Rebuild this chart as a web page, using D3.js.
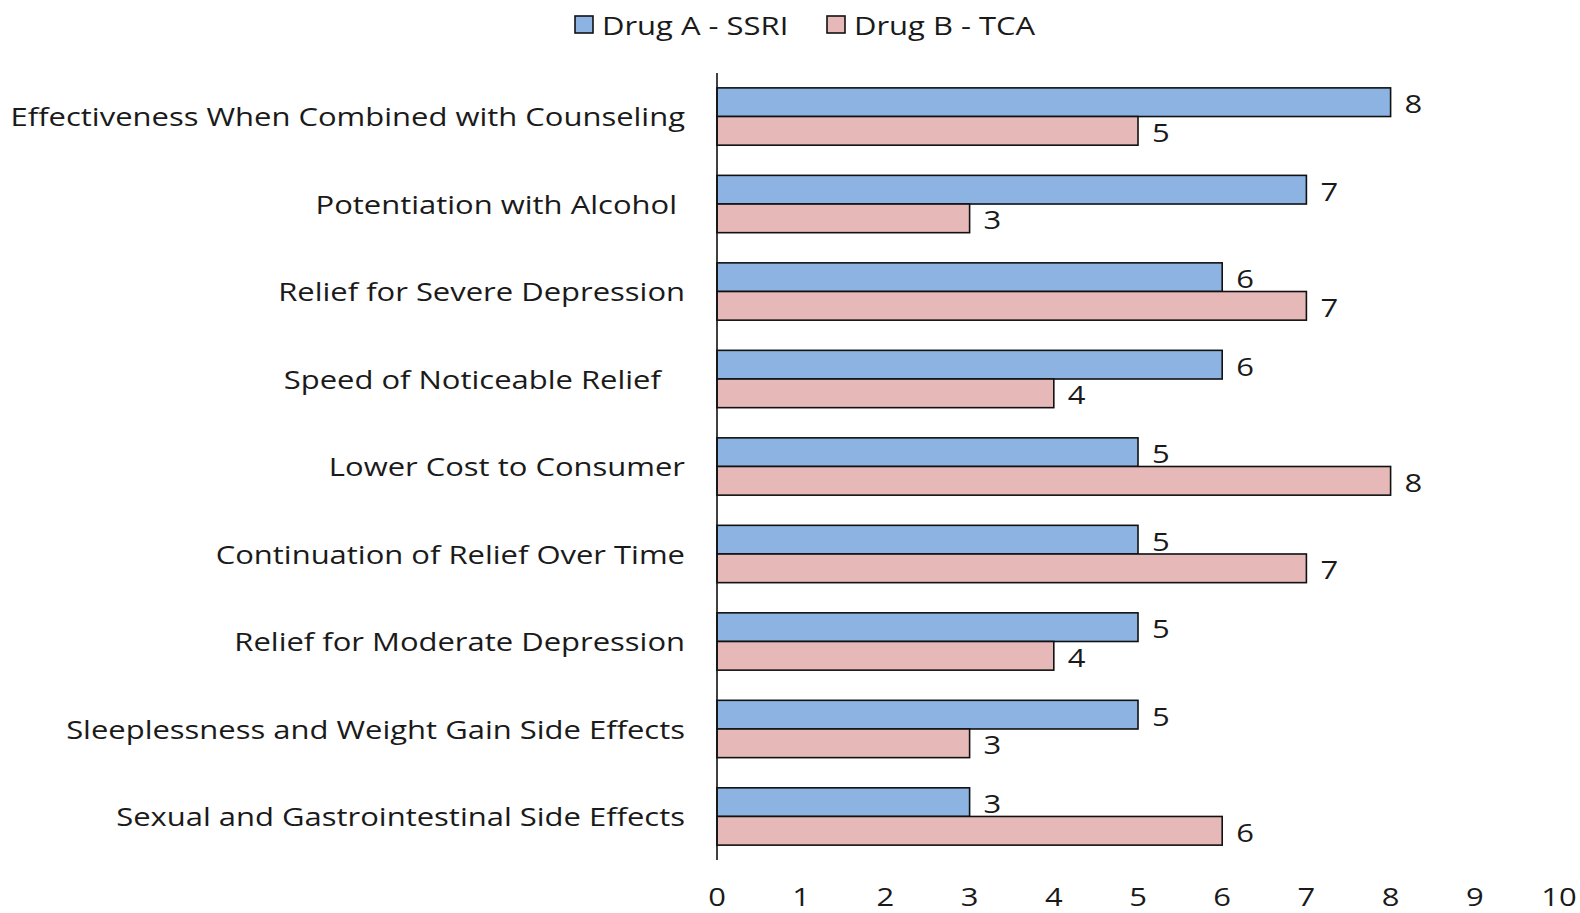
<!DOCTYPE html>
<html>
<head>
<meta charset="utf-8">
<script src="https://cdn.jsdelivr.net/npm/d3@7"></script>
<style>
  html, body { margin: 0; padding: 0; background: #fff; }
  svg text { font-family: "Open Sans", sans-serif; fill: #1a1a1a; white-space: pre; }
</style>
</head>
<body>
<svg id="chart" width="1580" height="913"></svg>
<script>
const categories = [
  "Effectiveness When Combined with Counseling",
  "Potentiation with Alcohol ",
  "Relief for Severe Depression",
  "Speed of Noticeable Relief   ",
  "Lower Cost to Consumer",
  "Continuation of Relief Over Time",
  "Relief for Moderate Depression",
  "Sleeplessness and Weight Gain Side Effects",
  "Sexual and Gastrointestinal Side Effects"
];
const seriesNames = ["Drug A - SSRI", "Drug B - TCA"];
const drugA = [8, 7, 6, 6, 5, 5, 5, 5, 3];
const drugB = [5, 3, 7, 4, 8, 7, 4, 3, 6];
const xTicks = [0, 1, 2, 3, 4, 5, 6, 7, 8, 9, 10];
const colors = ["#8DB3E2", "#E6B9B8"];

(function () {
const svg = d3.select("#chart");
const mLeft = 717, mRight = 1559, mTop = 73, mBottom = 860;
const sx = 1.215;        // horizontal text stretch
const fs = 25.5;

const x = d3.scaleLinear().domain([0, 10]).range([mLeft, mRight]);
const y = d3.scaleBand().domain(categories).range([mTop, mBottom]).paddingInner(0.345).paddingOuter(0.17);
const ySub = d3.scaleBand().domain([0, 1]).range([0, y.bandwidth()]);

const series = [drugA, drugB];

categories.forEach((c, i) => {
  series.forEach((s, k) => {
    const v = s[i];
    svg.append("rect")
      .attr("x", x(0))
      .attr("y", y(c) + ySub(k))
      .attr("width", x(v) - x(0))
      .attr("height", ySub.bandwidth())
      .attr("fill", colors[k])
      .attr("stroke", "#111")
      .attr("stroke-width", 1.6);
    svg.append("text")
      .attr("transform", `translate(${x(v) + 14},${y(c) + ySub(k) + ySub.bandwidth() / 2 + 1}) scale(${sx},1)`)
      .attr("dominant-baseline", "central")
      .attr("font-size", fs)
      .text(v);
  });
});

svg.append("line")
  .attr("x1", mLeft).attr("x2", mLeft)
  .attr("y1", mTop).attr("y2", mBottom)
  .attr("stroke", "#111").attr("stroke-width", 1.6);

categories.forEach(c => {
  svg.append("text")
    .attr("transform", `translate(685,${y(c) + y.bandwidth() / 2}) scale(${sx},1)`)
    .attr("text-anchor", "end")
    .attr("dominant-baseline", "central")
    .attr("font-size", fs)
    .text(c);
});

xTicks.forEach(t => {
  svg.append("text")
    .attr("transform", `translate(${x(t)},896.5) scale(${sx},1)`)
    .attr("text-anchor", "middle")
    .attr("dominant-baseline", "central")
    .attr("font-size", fs)
    .text(t);
});

const legendItems = [
  { name: seriesNames[0], color: colors[0], x: 575 },
  { name: seriesNames[1], color: colors[1], x: 827 }
];
legendItems.forEach(d => {
  svg.append("rect")
    .attr("x", d.x).attr("y", 16)
    .attr("width", 18).attr("height", 17)
    .attr("fill", d.color)
    .attr("stroke", "#111").attr("stroke-width", 1.6);
  svg.append("text")
    .attr("transform", `translate(${d.x + 27},25) scale(${sx},1)`)
    .attr("dominant-baseline", "central")
    .attr("font-size", fs)
    .text(d.name);
});
})();
</script>
</body>
</html>
